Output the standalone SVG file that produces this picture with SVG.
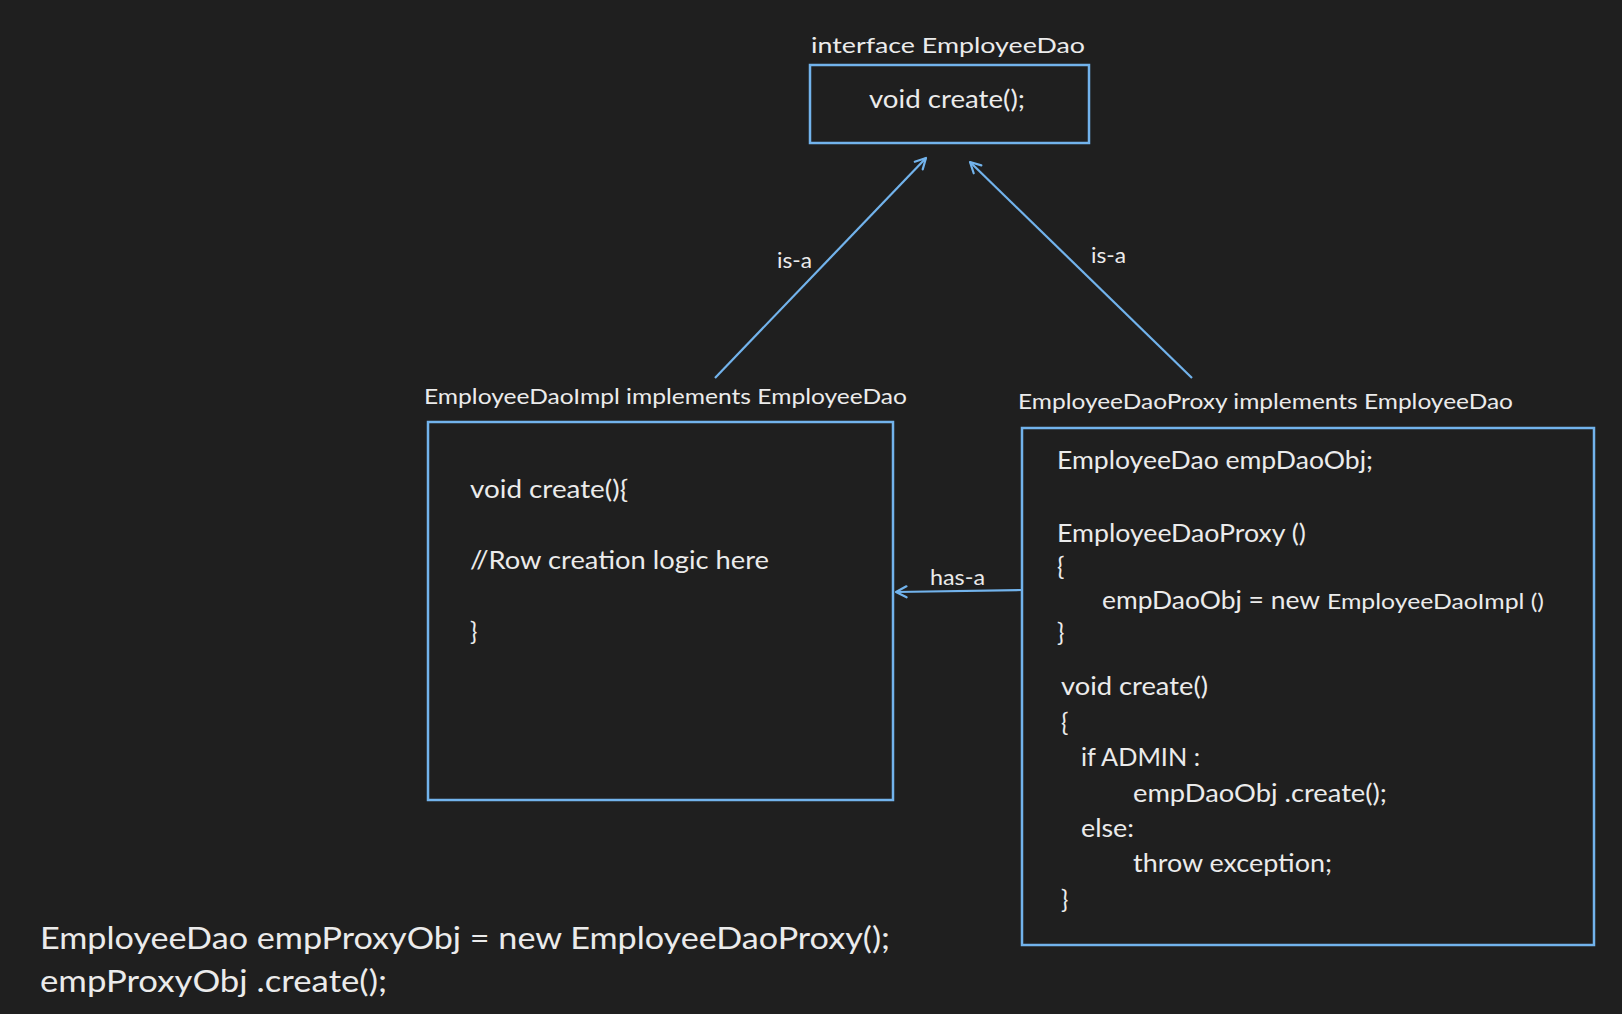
<svg xmlns="http://www.w3.org/2000/svg" width="1622" height="1014" viewBox="0 0 1622 1014">
<style>
  .box { fill: none; stroke: #72b3ec; stroke-width: 2.5; }
  .conn { stroke: #72b3ec; stroke-width: 2.2; fill: none; marker-end: url(#arr); }
  text { font-family: "Lato", "Open Sans", "Liberation Sans", sans-serif; fill: #ebebeb; }
  .lbl { font-size: 22px; }
  .code { font-size: 24.5px; }
  .small { font-size: 22px; }
  .big { font-size: 31.5px; }
</style>
<defs>
  <marker id="arr" viewBox="0 0 14 14" refX="12.5" refY="7" markerWidth="14" markerHeight="14" markerUnits="userSpaceOnUse" orient="auto">
    <path d="M2,1.5 L12.5,7 L2,12.5" fill="none" stroke="#72b3ec" stroke-width="2.2" stroke-linecap="round" stroke-linejoin="round"/>
  </marker>
</defs>
<rect width="1622" height="1014" fill="#1f1f1f"/>

<g id="connectors">
  <line class="conn" x1="715" y1="378" x2="926" y2="158"/>
  <line class="conn" x1="1192" y1="378" x2="970" y2="162"/>
  <line class="conn" x1="1022" y1="590" x2="896" y2="592"/>
  <text class="lbl" x="777" y="268" textLength="35" lengthAdjust="spacingAndGlyphs">is-a</text>
  <text class="lbl" x="1091" y="263" textLength="35" lengthAdjust="spacingAndGlyphs">is-a</text>
  <text class="lbl" x="930" y="585" textLength="55" lengthAdjust="spacingAndGlyphs">has-a</text>
</g>

<g id="interface">
  <text class="lbl" x="811" y="53" textLength="274" lengthAdjust="spacingAndGlyphs">interface EmployeeDao</text>
  <rect class="box" x="810" y="65" width="279" height="78"/>
  <text class="code" x="869" y="108" textLength="156" lengthAdjust="spacingAndGlyphs">void create();</text>
</g>

<g id="impl">
  <text class="lbl" x="424" y="404" textLength="483" lengthAdjust="spacingAndGlyphs">EmployeeDaoImpl implements EmployeeDao</text>
  <rect class="box" x="428" y="422" width="465" height="378"/>
  <text class="code" x="470" y="498" textLength="158" lengthAdjust="spacingAndGlyphs">void create(){</text>
  <text class="code" x="470" y="569" textLength="299" lengthAdjust="spacingAndGlyphs">//Row creation logic here</text>
  <text class="code" x="470" y="640">}</text>
</g>

<g id="proxy">
  <text class="lbl" x="1018" y="409" textLength="495" lengthAdjust="spacingAndGlyphs">EmployeeDaoProxy implements EmployeeDao</text>
  <rect class="box" x="1022" y="428" width="572" height="517"/>
  <text class="code" x="1057" y="469" textLength="316" lengthAdjust="spacingAndGlyphs">EmployeeDao empDaoObj;</text>
  <text class="code" x="1057" y="542" textLength="249" lengthAdjust="spacingAndGlyphs">EmployeeDaoProxy ()</text>
  <text class="code" x="1057" y="575">{</text>
  <text class="code" x="1102" y="609" textLength="218" lengthAdjust="spacingAndGlyphs">empDaoObj = new</text>
  <text class="small" x="1327" y="609" textLength="217" lengthAdjust="spacingAndGlyphs">EmployeeDaoImpl ()</text>
  <text class="code" x="1057" y="641">}</text>
  <text class="code" x="1061" y="695" textLength="147" lengthAdjust="spacingAndGlyphs">void create()</text>
  <text class="code" x="1061" y="731">{</text>
  <text class="code" x="1081" y="766" textLength="119" lengthAdjust="spacingAndGlyphs">if ADMIN :</text>
  <text class="code" x="1133" y="802" textLength="254" lengthAdjust="spacingAndGlyphs">empDaoObj .create();</text>
  <text class="code" x="1081" y="837" textLength="53" lengthAdjust="spacingAndGlyphs">else:</text>
  <text class="code" x="1133" y="872" textLength="199" lengthAdjust="spacingAndGlyphs">throw exception;</text>
  <text class="code" x="1061" y="908">}</text>
</g>

<g id="usage">
  <text class="big" x="40" y="949" textLength="850" lengthAdjust="spacingAndGlyphs">EmployeeDao empProxyObj = new EmployeeDaoProxy();</text>
  <text class="big" x="40" y="992" textLength="347" lengthAdjust="spacingAndGlyphs">empProxyObj .create();</text>
</g>
</svg>
